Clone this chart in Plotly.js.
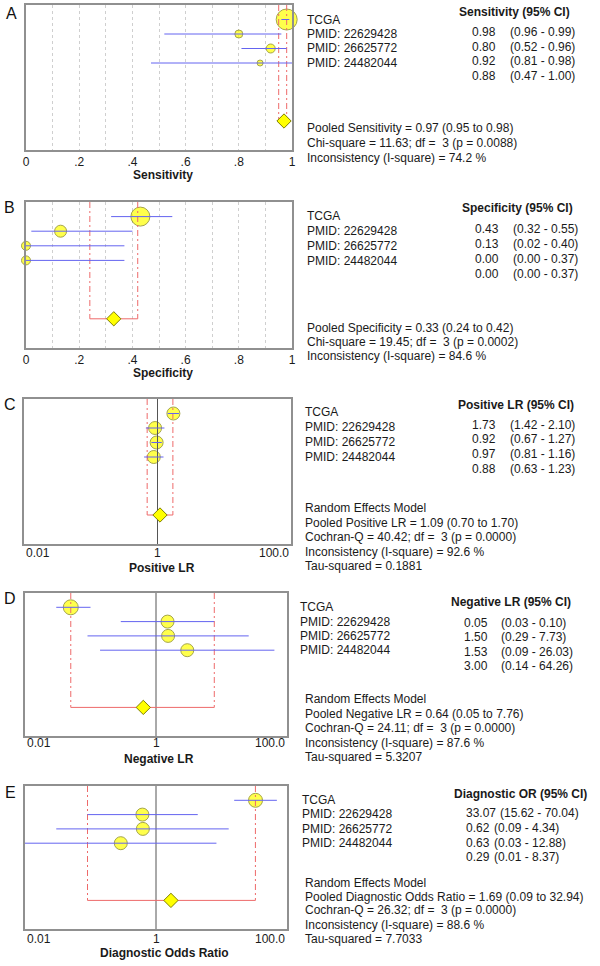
<!DOCTYPE html>
<html><head><meta charset="utf-8">
<script src="https://cdn.plot.ly/plotly-3.0.1.min.js"></script>
<style>html,body{margin:0;padding:0;background:#fff}#chart{width:600px;height:966px}</style>
</head><body><div id="chart"></div>
<script>
// ---------- DATA ----------
const studyLabels = ["TCGA", "PMID: 22629428", "PMID: 26625772", "PMID: 24482044"];

const sensEst = [0.98, 0.80, 0.92, 0.88];
const sensLo  = [0.96, 0.52, 0.81, 0.47];
const sensHi  = [0.99, 0.96, 0.98, 1.00];
const sensPooled = [0.97, 0.95, 0.98];
const sensStats = ["Pooled Sensitivity = 0.97 (0.95 to 0.98)", "Chi-square = 11.63; df = \u00a03 (p = 0.0088)", "Inconsistency (I-square) = 74.2 %"];

const specEst = [0.43, 0.13, 0.00, 0.00];
const specLo  = [0.32, 0.02, 0.00, 0.00];
const specHi  = [0.55, 0.40, 0.37, 0.37];
const specPooled = [0.33, 0.24, 0.42];
const specStats = ["Pooled Specificity = 0.33 (0.24 to 0.42)", "Chi-square = 19.45; df = \u00a03 (p = 0.0002)", "Inconsistency (I-square) = 84.6 %"];

const plrEst = [1.73, 0.92, 0.97, 0.88];
const plrLo  = [1.42, 0.67, 0.81, 0.63];
const plrHi  = [2.10, 1.27, 1.16, 1.23];
const plrPooled = [1.09, 0.70, 1.70];
const plrStats = ["Random Effects Model", "Pooled Positive LR = 1.09 (0.70 to 1.70)", "Cochran-Q = 40.42; df = \u00a03 (p = 0.0000)", "Inconsistency (I-square) = 92.6 %", "Tau-squared = 0.1881"];

const nlrEst = [0.05, 1.50, 1.53, 3.00];
const nlrLo  = [0.03, 0.29, 0.09, 0.14];
const nlrHi  = [0.10, 7.73, 26.03, 64.26];
const nlrPooled = [0.64, 0.05, 7.76];
const nlrStats = ["Random Effects Model", "Pooled Negative LR = 0.64 (0.05 to 7.76)", "Cochran-Q = 24.11; df = \u00a03 (p = 0.0000)", "Inconsistency (I-square) = 87.6 %", "Tau-squared = 5.3207"];

const dorEst = [33.07, 0.62, 0.63, 0.29];
const dorLo  = [15.62, 0.09, 0.03, 0.01];
const dorHi  = [70.04, 4.34, 12.88, 8.37];
const dorPooled = [1.69, 0.09, 32.94];
const dorStats = ["Random Effects Model", "Pooled Diagnostic Odds Ratio = 1.69 (0.09 to 32.94)", "Cochran-Q = 26.32; df = \u00a03 (p = 0.0000)", "Inconsistency (I-square) = 88.6 %", "Tau-squared = 7.7033"];

const linTickVals = [0, 0.2, 0.4, 0.6, 0.8, 1];
const linTickText = ["0", ".2", ".4", ".6", ".8", "1"];
const logTickVals = [0.01, 1, 100];
const logTickText = ["0.01", "1", "100.0"];

// ---------- LAYOUT CONFIG ----------
const FONT = "Liberation Sans, Arial, sans-serif";
const W = 600, H = 966;
const px = x => x / W;
const py = y => 1 - y / H;

const panels = [
  {letter:'A', est:sensEst, lo:sensLo, hi:sensHi, pooled:sensPooled, heading:'Sensitivity (95% CI)', stats:sensStats, title:'Sensitivity', log:false,
   box:[26,292,5,150], letterPos:[11,14], titlePos:[163,175], tickY:null, sizes:[21,8,9,6],
   labelX:305, labelY:[20,34,48,63], headX:457, headY:12, valX:470, ciX:[508,508,508,508], valY:[32,47,61,76], statX:305, statY:[128,143,158]},
  {letter:'B', est:specEst, lo:specLo, hi:specHi, pooled:specPooled, heading:'Specificity (95% CI)', stats:specStats, title:'Specificity', log:false,
   box:[26,292,202,348], letterPos:[9,207], titlePos:[163,373], tickY:null, sizes:[19,12,9,9],
   labelX:305, labelY:[216,231,246,261], headX:460, headY:208, valX:473, ciX:[511,511,511,511], valY:[229,244,259,274], statX:305, statY:[328,342,356]},
  {letter:'C', est:plrEst, lo:plrLo, hi:plrHi, pooled:plrPooled, heading:'Positive LR (95% CI)', stats:plrStats, title:'Positive LR', log:true,
   box:[24,291,399,544], letterPos:[10,405], titlePos:[162,568], tickY:553, sizes:[13,13,13,13],
   labelX:303, labelY:[412,427,442,457], headX:456, headY:405, valX:470, ciX:[508,508,508,508], valY:[425,439,454,469], statX:303, statY:[508,523,537,552,566]},
  {letter:'D', est:nlrEst, lo:nlrLo, hi:nlrHi, pooled:nlrPooled, heading:'Negative LR (95% CI)', stats:nlrStats, title:'Negative LR', log:true,
   box:[25,287,593,736], letterPos:[10,598], titlePos:[159,759], tickY:743, sizes:[15,13,13,13],
   labelX:298, labelY:[607,622,636,650], headX:449, headY:602, valX:462, ciX:[499,499,499,499], valY:[623,637,652,666], statX:303, statY:[699,714,728,743,757]},
  {letter:'E', est:dorEst, lo:dorLo, hi:dorHi, pooled:dorPooled, heading:'Diagnostic OR (95% CI)', stats:dorStats, title:'Diagnostic Odds Ratio', log:true,
   box:[25,287,786,929], letterPos:[10,792], titlePos:[164,953], tickY:939, sizes:[14,13,13,13],
   labelX:300, labelY:[800,814,829,843], headX:452, headY:794, valX:464, ciX:[498,492,492,492], valY:[813,828,843,857], statX:303, statY:[883,897,910,925,939]}
];

const POOL_ROW = 8;
const YMAX = 10;
const BOX_COLOR = '#909090';
const RED = '#ee6a6a';
const BLUE = '#6464f0';
const YELLOW = '#ffff00';
const OLIVE = '#7f7f00';

const traces = [];
const annotations = [];
const layout = {
  width: W, height: H, margin: {l:0, r:0, t:0, b:0},
  paper_bgcolor: '#fff', plot_bgcolor: '#fff', showlegend: false,
  font: {family: FONT, size: 12, color: '#1a1a1a'},
  hovermode: false
};

function txt(x, y, text, opts) {
  annotations.push(Object.assign({
    xref:'paper', yref:'paper', x:px(x), y:py(y), text:text, showarrow:false,
    xanchor:'left', yanchor:'middle', font:{family:FONT, size:12, color:'#1a1a1a'}
  }, opts || {}));
}

panels.forEach((p, i) => {
  const s = i === 0 ? '' : String(i + 1);
  const xa = 'x' + s, ya = 'y' + s;
  const rows = p.est.map((_, k) => k + 1);

  layout['xaxis' + s] = Object.assign({
    domain: [px(p.box[0]), px(p.box[1])], anchor: ya,
    showline: true, mirror: true, linecolor: BOX_COLOR, linewidth: 2,
    zeroline: false, ticks: '', fixedrange: true
  }, p.log ? {
    type: 'log', range: [-2, 2], showticklabels: false, showgrid: false
  } : {
    type: 'linear', range: [0, 1], tickvals: linTickVals, ticktext: linTickText,
    tickfont: {family: FONT, size: 12, color: '#1a1a1a'},
    showgrid: true, gridcolor: '#cfcfcf', griddash: 'dot', gridwidth: 1,
    minor: {dtick: 0.1, tick0: 0, showgrid: true, gridcolor: '#cfcfcf', griddash: 'dot', gridwidth: 1, ticks: ''}
  });
  layout['yaxis' + s] = {
    domain: [py(p.box[3]), py(p.box[2])], anchor: xa, range: [YMAX, 0],
    showline: true, mirror: true, linecolor: BOX_COLOR, linewidth: 2,
    showticklabels: false, ticks: '', showgrid: false, zeroline: false, fixedrange: true
  };

  // study circles
  traces.push({x: p.est, y: rows, xaxis: xa, yaxis: ya, type: 'scatter', mode: 'markers', cliponaxis: false,
    marker: {symbol: 'circle', size: p.sizes, color: YELLOW, line: {color: OLIVE, width: 1}}});
  // reference line at 1 for ratio scales
  if (p.log) {
    traces.push({x: [1, 1], y: [0, YMAX], xaxis: xa, yaxis: ya, type: 'scatter', mode: 'lines',
      line: {color: '#555555', width: 1}});
  }
  // pooled CI bracket
  traces.push({x: [p.pooled[1], p.pooled[1], null, p.pooled[2], p.pooled[2]], y: [0, POOL_ROW, null, 0, POOL_ROW],
    xaxis: xa, yaxis: ya, type: 'scatter', mode: 'lines', line: {color: RED, width: 1, dash: '6px,3px,2px,3px'}});
  traces.push({x: [p.pooled[1], p.pooled[2]], y: [POOL_ROW, POOL_ROW], xaxis: xa, yaxis: ya, type: 'scatter', mode: 'lines',
    line: {color: RED, width: 1}});
  // study CIs
  const cx = [], cy = [];
  p.est.forEach((_, k) => { cx.push(p.lo[k], p.hi[k], null); cy.push(k + 1, k + 1, null); });
  traces.push({x: cx, y: cy, xaxis: xa, yaxis: ya, type: 'scatter', mode: 'lines', cliponaxis: false,
    line: {color: BLUE, width: 1}});
  // pooled diamond
  traces.push({x: [p.pooled[0]], y: [POOL_ROW], xaxis: xa, yaxis: ya, type: 'scatter', mode: 'markers', cliponaxis: false,
    marker: {symbol: 'diamond', size: 11, color: YELLOW, line: {color: OLIVE, width: 1}}});

  // panel letter
  txt(p.letterPos[0], p.letterPos[1], p.letter, {xanchor: 'center', font: {family: FONT, size: 16, color: '#111'}});
  // axis title
  txt(p.titlePos[0], p.titlePos[1], '<b>' + p.title + '</b>', {xanchor: 'center', font: {family: FONT, size: 12, color: '#1a1a1a'}});
  // log tick labels
  if (p.log) {
    const anchors = ['left', 'center', 'right'];
    logTickVals.forEach((v, k) => {
      annotations.push({xref: xa, yref: 'paper', x: Math.log10(v), y: py(p.tickY), text: logTickText[k], showarrow: false,
        xanchor: anchors[k], yanchor: 'middle', font: {family: FONT, size: 12, color: '#1a1a1a'}});
    });
  }
  // right-hand table
  studyLabels.forEach((l, k) => txt(p.labelX, p.labelY[k], l));
  txt(p.headX, p.headY, '<b>' + p.heading + '</b>');
  p.est.forEach((v, k) => {
    txt(p.valX, p.valY[k], v.toFixed(2));
    txt(p.ciX[k], p.valY[k], '(' + p.lo[k].toFixed(2) + ' - ' + p.hi[k].toFixed(2) + ')');
  });
  p.stats.forEach((st, k) => txt(p.statX, p.statY[k], st));
});

layout.annotations = annotations;
Plotly.newPlot('chart', traces, layout, {displayModeBar: false, staticPlot: true});
</script>
</body></html>
